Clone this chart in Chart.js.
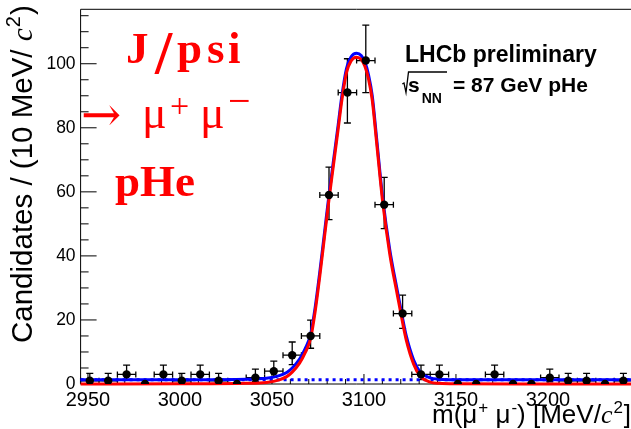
<!DOCTYPE html>
<html>
<head>
<meta charset="utf-8">
<script src="https://cdn.jsdelivr.net/npm/chart.js@4.4.0/dist/chart.umd.min.js"></script>
<style>
  html, body { margin: 0; padding: 0; background: #fff; overflow: hidden; }
  #wrap { width: 640px; height: 429px; position: relative; }
</style>
</head>
<body>
<div id="wrap"><canvas id="chart"></canvas></div>
<script>
// data points: bin centres (10 MeV bins), counts and Poisson errors
const binCenters = [2951, 2961, 2971, 2981, 2991, 3001, 3011, 3021, 3031, 3041,
                    3051, 3061, 3071, 3081, 3091, 3101, 3111, 3121, 3131, 3141,
                    3151, 3161, 3171, 3181, 3191, 3201, 3211, 3221, 3231, 3241];
const counts = [1, 1, 3, 0, 3, 1, 3, 1, 0, 2,
                4, 9, 15, 59, 91, 101, 56, 22, 3, 3,
                0, 0, 3, 0, 0, 2, 1, 1, 0, 1];
const errUp = [2.3, 2.3, 2.92, 0, 2.92, 2.3, 2.92, 2.3, 0, 2.64,
               3.16, 4.11, 4.95, 8.73, 10.56, 11.08, 8.54, 5.76, 2.92, 2.92,
               0, 0, 2.92, 0, 0, 2.64, 2.3, 2.3, 0, 2.3];
const errDown = [0.83, 0.83, 1.63, 0, 1.63, 0.83, 1.63, 0.83, 0, 1.29,
                 1.91, 2.94, 3.83, 7.66, 9.5, 10.03, 7.46, 4.66, 1.63, 1.63,
                 0, 0, 1.63, 0, 0, 1.29, 0.83, 0.83, 0, 0.83];
const binHalf = 5;

// fit curves
const curveMass = [2946, 3000, 3036, 3047, 3054, 3058, 3061, 3065, 3068, 3071,
                   3073.5, 3076, 3078.5, 3081, 3083.5, 3086, 3088, 3090.5, 3093, 3096,
                   3098.5, 3100.5, 3102.5, 3104.5, 3107, 3110, 3114, 3118, 3120.5, 3123,
                   3127, 3130.5, 3136, 3141, 3150, 3200, 3246];
const totalFit = [1.3, 1.35, 1.5, 1.8, 2.6, 3.6, 5.0, 7.8, 11, 15.5,
                  24, 35, 47, 59, 70, 81, 90, 98.5, 102.2, 103.3,
                  102.6, 100.5, 96.5, 90, 76, 59, 42, 29.5, 22, 15,
                  7.5, 3.8, 1.9, 1.5, 1.35, 1.3, 1.3];
const signalFit = [0, 0.05, 0.2, 0.5, 1.3, 2.3, 3.7, 6.5, 9.7, 14.2,
                   22.7, 33.7, 45.7, 57.7, 68.7, 79.7, 88.7, 97.2, 100.9, 102,
                   101.3, 99.2, 95.2, 88.7, 74.7, 57.7, 40.7, 28.2, 20.7, 13.7,
                   6.2, 2.5, 0.6, 0.2, 0.05, 0, 0];
const bgMass = [2946, 3246];
const bgFit = [1.3, 1.3];

// axes
const xRange = [2946, 3246];
const yRange = [0, 117];
const xTicks = [2950, 3000, 3050, 3100, 3150, 3200];
const yTicks = [0, 20, 40, 60, 80, 100];

const RED = "#ff0000", BLUE = "#0000ff";
const SANS = "'Liberation Sans', Arial, sans-serif";
const SERIF = "'Liberation Serif', 'Times New Roman', serif";

function drawPieces(ctx, x, y, pieces) {
  for (const p of pieces) {
    ctx.font = p.font;
    ctx.fillText(p.t, x + (p.dx || 0), y + (p.dy || 0));
    x += (p.dx || 0) + ctx.measureText(p.t).width;
  }
  return x;
}

const rootStyle = {
  id: "rootStyle",
  beforeDatasetsDraw(chart) {
    const { ctx, chartArea: a, scales: { x, y } } = chart;
    ctx.save();
    // frame
    ctx.strokeStyle = "#000";
    ctx.lineWidth = 1;
    ctx.beginPath();
    ctx.moveTo(a.right, a.top); ctx.lineTo(a.left, a.top);
    ctx.lineTo(a.left, a.bottom); ctx.lineTo(a.right, a.bottom);
    ctx.stroke();
    // ticks inside the frame
    ctx.beginPath();
    for (let v = 0; v <= 115; v += 5) {
      const py = y.getPixelForValue(v);
      ctx.moveTo(a.left, py);
      ctx.lineTo(a.left + (v % 20 === 0 ? 16 : 8), py);
    }
    for (let v = 2950; v < 3246; v += 10) {
      const px = x.getPixelForValue(v);
      ctx.moveTo(px, a.bottom);
      ctx.lineTo(px, a.bottom - (v % 50 === 0 ? 10 : 5));
    }
    ctx.stroke();
    // error bars
    ctx.lineWidth = 1.3;
    ctx.beginPath();
    for (let i = 0; i < binCenters.length; i++) {
      const n = counts[i];
      if (n <= 0) continue;
      const px = x.getPixelForValue(binCenters[i]);
      const py = y.getPixelForValue(n);
      const top = y.getPixelForValue(n + errUp[i]);
      const bot = y.getPixelForValue(n - errDown[i]);
      const l = x.getPixelForValue(binCenters[i] - binHalf);
      const r = x.getPixelForValue(binCenters[i] + binHalf);
      ctx.moveTo(px, top); ctx.lineTo(px, bot);
      ctx.moveTo(px - 3.5, top); ctx.lineTo(px + 3.5, top);
      ctx.moveTo(px - 3.5, bot); ctx.lineTo(px + 3.5, bot);
      ctx.moveTo(l, py); ctx.lineTo(r, py);
      ctx.moveTo(l, py - 3); ctx.lineTo(l, py + 3);
      ctx.moveTo(r, py - 3); ctx.lineTo(r, py + 3);
    }
    ctx.stroke();
    ctx.restore();
  },
  afterDraw(chart) {
    const ctx = chart.ctx;
    ctx.save();
    ctx.textBaseline = "alphabetic";
    ctx.textAlign = "left";
    ctx.fillStyle = "#000";

    // y title (rotated)
    ctx.save();
    ctx.translate(32, 343);
    ctx.rotate(-Math.PI / 2);
    drawPieces(ctx, 0, 0, [
      { t: "Candidates / (10 MeV/ ", font: "29.5px " + SANS },
      { t: "c", font: "italic 29.5px " + SERIF },
      { t: "2", font: "20px " + SANS, dy: -12, dx: 1 },
      { t: ")", font: "29.5px " + SANS, dx: 1 }
    ]);
    ctx.restore();

    // x title
    drawPieces(ctx, 432, 423, [
      { t: "m(μ", font: "26px " + SANS },
      { t: "+", font: "17px " + SANS, dy: -10, dx: 1 },
      { t: " μ", font: "26px " + SANS },
      { t: "-", font: "17px " + SANS, dy: -10, dx: 1 },
      { t: ") [MeV/", font: "26px " + SANS },
      { t: "c", font: "italic 26px " + SERIF },
      { t: "2", font: "17px " + SANS, dy: -10, dx: 1 },
      { t: "]", font: "26px " + SANS, dx: 1 }
    ]);

    // LHCb label
    ctx.font = "bold 23px " + SANS;
    ctx.fillText("LHCb preliminary", 405, 62);
    ctx.lineWidth = 1.3;
    ctx.strokeStyle = "#000";
    ctx.beginPath();
    ctx.moveTo(402.3, 84); ctx.lineTo(404, 83);
    ctx.lineTo(406, 92.5); ctx.lineTo(408.5, 72);
    ctx.lineTo(447, 72);
    ctx.stroke();
    ctx.font = "bold 21px " + SANS;
    ctx.fillText("s", 408, 91.7);
    ctx.font = "bold 14px " + SANS;
    ctx.fillText("NN", 421.7, 103);
    ctx.font = "bold 21px " + SANS;
    ctx.fillText("= 87 GeV pHe", 453, 91.7);

    // red decay label
    ctx.fillStyle = RED;
    ctx.font = "bold 45px " + SERIF;
    ctx.fillText("J", 126, 63);
    ctx.fillText("p", 177, 63);
    ctx.fillText("s", 207, 63);
    ctx.fillText("i", 228, 63);
    ctx.font = "bold 62px " + SERIF;
    ctx.fillText("/", 155, 73);
    ctx.font = "48px 'DejaVu Serif', serif";
    ctx.fillText("→", 81, 131);
    ctx.font = "46px " + SERIF;
    ctx.fillText("μ", 142, 128);
    ctx.fillText("μ", 200, 128);
    ctx.font = "34px " + SERIF;
    ctx.fillText("+", 170, 117);
    ctx.font = "40px " + SERIF;
    ctx.fillText("−", 228, 114);
    ctx.font = "bold 45px " + SERIF;
    ctx.fillText("pHe", 115, 196);
    ctx.restore();
  }
};

const pts = binCenters.map((m, i) => ({ x: m, y: counts[i] }));
const total = curveMass.map((m, i) => ({ x: m, y: totalFit[i] }));
const signal = curveMass.map((m, i) => ({ x: m, y: signalFit[i] }));
const bg = bgMass.map((m, i) => ({ x: m, y: bgFit[i] }));

const chart = new Chart("chart", {
  type: "scatter",
  data: {
    datasets: [
      {
        data: pts,
        pointRadius: 4.2,
        pointBackgroundColor: "#000",
        pointBorderWidth: 0,
        order: 0,
      },
      {
        type: "line",
        data: signal,
        borderColor: RED,
        borderWidth: 3,
        pointRadius: 0,
        cubicInterpolationMode: "monotone",
        clip: false,
        order: 1,
      },
      {
        type: "line",
        data: bg,
        borderColor: BLUE,
        borderWidth: 3,
        borderDash: [3, 4],
        pointRadius: 0,
        clip: false,
        order: 2,
      },
      {
        type: "line",
        data: total,
        borderColor: BLUE,
        borderWidth: 3,
        pointRadius: 0,
        cubicInterpolationMode: "monotone",
        clip: false,
        order: 3,
      },
    ],
  },
  options: {
    responsive: true,
    maintainAspectRatio: false,
    devicePixelRatio: 1,
    animation: false,
    events: [],
    layout: { padding: { left: 0, top: 9.3, right: 7.4, bottom: 0 } },
    plugins: {
      legend: { display: false },
      tooltip: { enabled: false },
    },
    scales: {
      x: {
        type: "linear",
        min: xRange[0],
        max: xRange[1],
        grid: { display: false, drawTicks: false },
        border: { display: false },
        afterBuildTicks: (s) => { s.ticks = xTicks.map((v) => ({ value: v })); },
        afterFit: (s) => { s.height = 45; s.paddingLeft = 0; s.paddingRight = 0; },
        ticks: {
          autoSkip: false,
          maxRotation: 0,
          padding: 4,
          color: "#000",
          font: { family: SANS, size: 20 },
          callback: (v) => String(v),
        },
      },
      y: {
        type: "linear",
        min: yRange[0],
        max: yRange[1],
        grid: { display: false, drawTicks: false },
        border: { display: false },
        afterBuildTicks: (s) => { s.ticks = yTicks.map((v) => ({ value: v })); },
        afterFit: (s) => { s.width = 80.6; s.paddingTop = 0; s.paddingBottom = 0; },
        ticks: {
          padding: 5,
          color: "#000",
          font: { family: SANS, size: 17.5 },
          callback: (v) => String(v),
        },
      },
    },
  },
  plugins: [rootStyle],
});
</script>
</body>
</html>
